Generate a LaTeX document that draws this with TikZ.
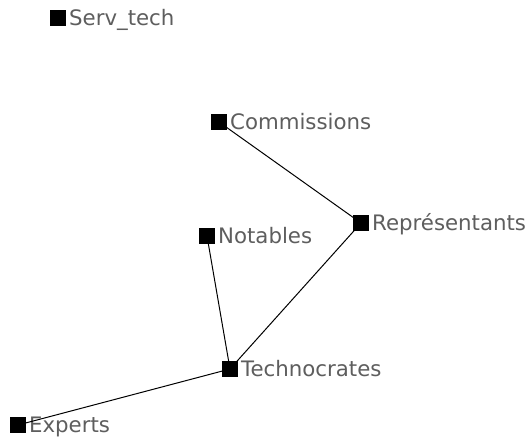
\documentclass[tikz,border=0pt]{standalone}
\usepackage{fontspec}
\setmainfont{DejaVu Sans}
\definecolor{labelgray}{HTML}{5E5E5E}
\begin{document}
\begin{tikzpicture}[x=1pt,y=1pt,
  sq/.style={fill=black,draw=none,minimum size=15.5pt,inner sep=0pt},
  lbl/.style={text=labelgray,font=\fontsize{21.3}{25}\selectfont,anchor=base west,inner sep=0pt},
  edge/.style={draw=black,line width=1pt}]
\fill[white] (0,0) rectangle (532,442);
\useasboundingbox (0,0) rectangle (532,442);
\node[sq] (serv) at (58,424) {};
\node[sq] (comm) at (219,320) {};
\node[sq] (rep) at (361,219) {};
\node[sq] (not) at (207,206) {};
\node[sq] (tech) at (230,73) {};
\node[sq] (exp) at (18,17) {};
\node[lbl] (servL) at ([xshift=3pt]serv.south east) {Serv\_tech};
\node[lbl] (commL) at ([xshift=3pt]comm.south east) {Commissions};
\node[lbl] (repL) at ([xshift=3pt]rep.south east) {Représentants};
\node[lbl] (notL) at ([xshift=3pt]not.south east) {Notables};
\node[lbl] (techL) at ([xshift=3pt]tech.south east) {Technocrates};
\node[lbl] (expL) at ([xshift=3pt]exp.south east) {Experts};
\draw[edge] (comm.center) -- (rep.center);
\draw[edge] (rep.center) -- (tech.center);
\draw[edge] (not.center) -- (tech.center);
\draw[edge] (tech.center) -- (exp.center);
\node[sq] at (comm) {};
\node[sq] at (rep) {};
\node[sq] at (not) {};
\node[sq] at (tech) {};
\node[sq] at (exp) {};
\end{tikzpicture}
\end{document}
